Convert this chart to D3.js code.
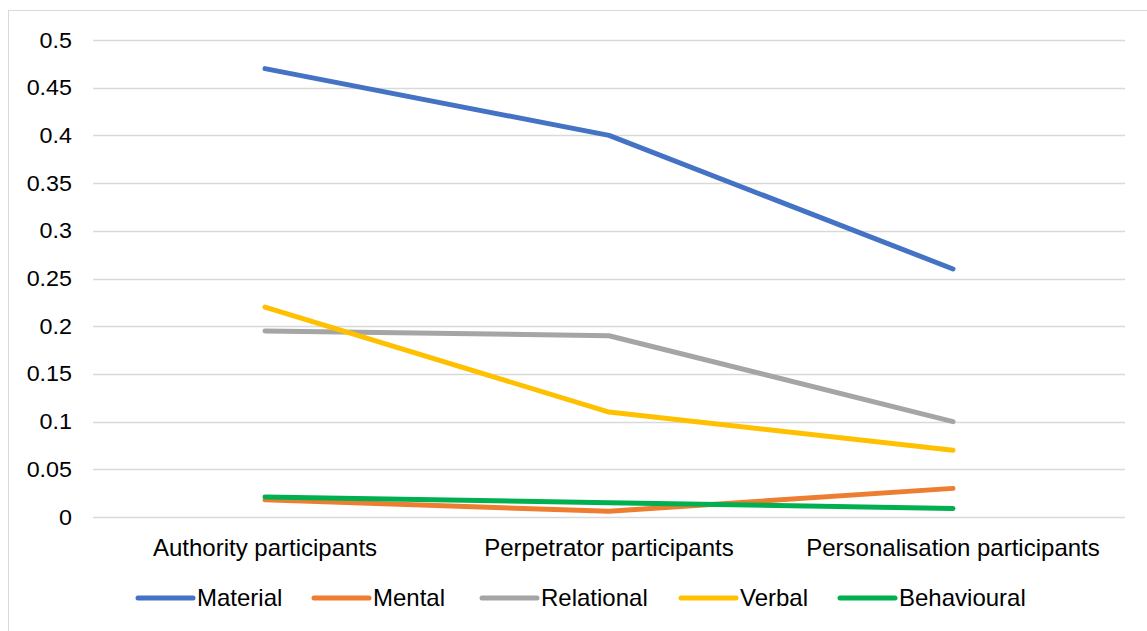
<!DOCTYPE html>
<html>
<head>
<meta charset="utf-8">
<script src="https://cdn.jsdelivr.net/npm/d3@7"></script>
<style>
  html, body { margin: 0; padding: 0; background: #fff; }
  svg text { font-family: "Liberation Sans", Arial, sans-serif; fill: #000; }
</style>
</head>
<body>
<svg id="chart" width="1147" height="631"></svg>
<script>
const categories = ["Authority participants", "Perpetrator participants", "Personalisation participants"];
const seriesNames = ["Material", "Mental", "Relational", "Verbal", "Behavioural"];
const material    = [0.47, 0.40, 0.26];
const mental      = [0.018, 0.006, 0.030];
const relational  = [0.195, 0.19, 0.10];
const verbal      = [0.22, 0.11, 0.07];
const behavioural = [0.021, 0.015, 0.009];
const yTicks = [0, 0.05, 0.1, 0.15, 0.2, 0.25, 0.3, 0.35, 0.4, 0.45, 0.5];
const colors = ["#4472C4", "#ED7D31", "#A5A5A5", "#FFC000", "#00B050"];

(function () {
const seriesValues = [material, mental, relational, verbal, behavioural];
const series = seriesNames.map((n, i) => ({ name: n, values: seriesValues[i], color: colors[i] }));

const svg = d3.select("#chart");
const pLeft = 93, pRight = 1125, pTop = 40, pBottom = 517;

svg.append("rect").attr("x", 8.5).attr("y", 10.5).attr("width", 1160).attr("height", 640)
  .attr("fill", "none").attr("stroke", "#d9d9d9").attr("stroke-width", 1);

const x = d3.scaleBand().domain(categories).range([pLeft, pRight]);
const y = d3.scaleLinear().domain([0, 0.5]).range([pBottom, pTop]);

svg.append("g").selectAll("line").data(yTicks).join("line")
  .attr("x1", pLeft).attr("x2", pRight)
  .attr("y1", d => Math.round(y(d)) + 0.5).attr("y2", d => Math.round(y(d)) + 0.5)
  .attr("stroke", "#d9d9d9").attr("stroke-width", 1.5);

const yAxis = d3.axisLeft(y).tickValues(yTicks).tickSize(0).tickPadding(0).tickFormat(d => String(d));
const gy = svg.append("g").attr("transform", `translate(${pLeft - 21},0)`).call(yAxis);
gy.select(".domain").remove();
gy.selectAll("text").attr("font-size", 22).attr("font-family", "Liberation Sans, Arial, sans-serif")
  .attr("fill", "#000").attr("transform", "scale(1.06,1)");

const xAxis = d3.axisBottom(x).tickSize(0).tickPadding(0);
const gx = svg.append("g").attr("transform", `translate(0,${pBottom + 31})`).call(xAxis);
gx.select(".domain").remove();
gx.selectAll("text").attr("font-size", 24).attr("font-family", "Liberation Sans, Arial, sans-serif")
  .attr("fill", "#000").attr("dy", "0.35em").attr("y", 0);

const line = d3.line()
  .x((d, i) => x(categories[i]) + x.bandwidth() / 2)
  .y(d => y(d));
svg.append("g").selectAll("path").data(series).join("path")
  .attr("d", d => line(d.values))
  .attr("fill", "none")
  .attr("stroke", d => d.color)
  .attr("stroke-width", 5)
  .attr("stroke-linecap", "round")
  .attr("stroke-linejoin", "round");

const legendX = [138, 314, 482, 681, 840];
const legendY = 598;
const lg = svg.append("g").selectAll("g").data(series).join("g")
  .attr("transform", (d, i) => `translate(${legendX[i]},${legendY})`);
lg.append("line").attr("x1", 0).attr("x2", 55).attr("y1", 0).attr("y2", 0)
  .attr("stroke", d => d.color).attr("stroke-width", 5).attr("stroke-linecap", "round");
lg.append("text").attr("x", 59).attr("y", 0).attr("dy", "0.35em")
  .attr("font-size", 24).text(d => d.name);
})();
</script>
</body>
</html>
